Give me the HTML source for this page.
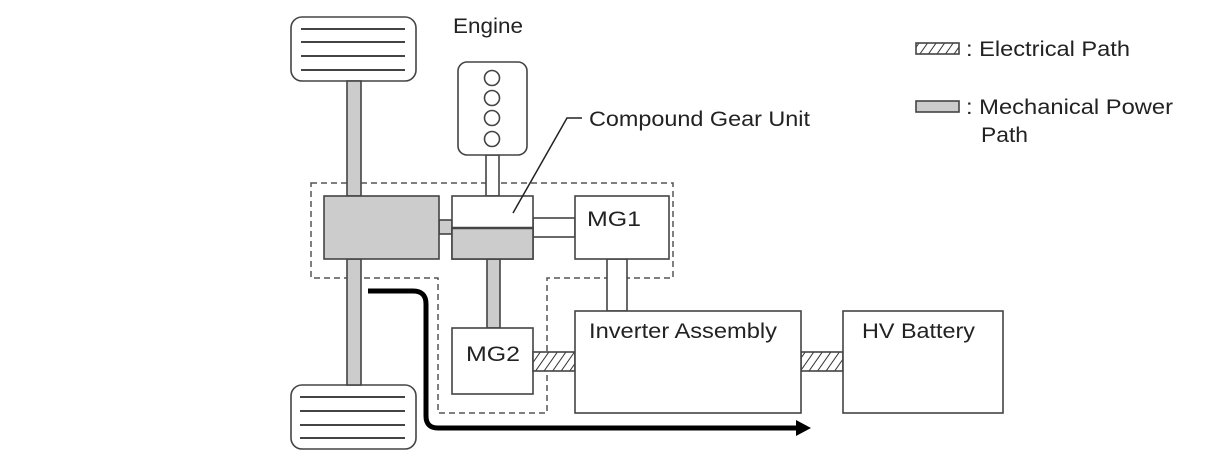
<!DOCTYPE html>
<html><head><meta charset="utf-8"><style>
html,body{margin:0;padding:0;background:#fff;}
svg{display:block;}
text{font-family:"Liberation Sans",sans-serif;font-size:21px;fill:#222;}
</style></head><body>
<svg width="1210" height="474" viewBox="0 0 1210 474" xmlns="http://www.w3.org/2000/svg">
<defs>
<pattern id="h" width="7" height="7" patternUnits="userSpaceOnUse" patternTransform="rotate(35)">
<rect width="7" height="7" fill="#fff"/><line x1="0" y1="0" x2="0" y2="7" stroke="#333" stroke-width="2"/>
</pattern>
</defs>
<g stroke="#444" stroke-width="1.6">
<polygon points="311,183 673,183 673,278 547,278 547,413 438,413 438,278 311,278" fill="none" stroke="#555" stroke-width="1.5" stroke-dasharray="6,4"/>
<rect x="291" y="17" width="125" height="64" rx="11" fill="#fff"/>
<g stroke-width="2"><line x1="301" y1="29" x2="405" y2="29"/><line x1="301" y1="42" x2="405" y2="42"/><line x1="301" y1="56" x2="405" y2="56"/><line x1="301" y1="70" x2="405" y2="70"/></g>
<rect x="291" y="385" width="125" height="64" rx="11" fill="#fff"/>
<g stroke-width="2"><line x1="300" y1="397" x2="405" y2="397"/><line x1="300" y1="411" x2="405" y2="411"/><line x1="300" y1="425" x2="405" y2="425"/><line x1="300" y1="438" x2="405" y2="438"/></g>
<rect x="347" y="81" width="14" height="115" fill="#ccc"/>
<rect x="347" y="259" width="14" height="126" fill="#ccc"/>
<rect x="439" y="220" width="13" height="14" fill="#ccc"/>
<rect x="486" y="155" width="13" height="41" fill="#fff"/>
<rect x="533" y="218" width="42" height="19" fill="#fff"/>
<rect x="487" y="259" width="13" height="69" fill="#ccc"/>
<rect x="607" y="259" width="20" height="52" fill="#fff"/>
<rect x="324" y="196" width="115" height="63" fill="#ccc"/>
<rect x="452" y="196" width="81" height="63" fill="#fff"/>
<rect x="452" y="228" width="81" height="31" fill="#ccc"/>
<line x1="452" y1="228" x2="533" y2="228" stroke-width="2.5"/>
<rect x="458" y="62" width="69" height="93" rx="9" fill="#fff"/>
<circle cx="492" cy="78" r="7.5" fill="#fff"/><circle cx="492" cy="98" r="7.5" fill="#fff"/><circle cx="492" cy="118" r="7.5" fill="#fff"/><circle cx="492" cy="139" r="7.5" fill="#fff"/>
<rect x="575" y="196" width="94" height="63" fill="#fff"/>
<rect x="452" y="328" width="81" height="66" fill="#fff"/>
<rect x="533" y="352" width="42" height="19" fill="url(#h)"/>
<rect x="801" y="352" width="42" height="19" fill="url(#h)"/>
<rect x="575" y="311" width="226" height="102" fill="#fff"/>
<rect x="843" y="311" width="160" height="102" fill="#fff"/>
<polyline points="513,213 567,118 582,118" fill="none" stroke="#222" stroke-width="1.5"/>
<rect x="916" y="43" width="43" height="11" fill="url(#h)"/>
<rect x="916" y="101" width="43" height="11" fill="#ccc"/>
</g>
<path d="M368,291 H413 Q426,291 426,304 V416 Q426,428 438,428 H798" fill="none" stroke="#000" stroke-width="5"/>
<polygon points="796,420 811,428 796,436" fill="#000"/>
<g>
<text x="453" y="33" textLength="70" lengthAdjust="spacingAndGlyphs">Engine</text>
<text x="589" y="126" textLength="221" lengthAdjust="spacingAndGlyphs">Compound Gear Unit</text>
<text x="587" y="226" textLength="54" lengthAdjust="spacingAndGlyphs">MG1</text>
<text x="466" y="361" textLength="54" lengthAdjust="spacingAndGlyphs">MG2</text>
<text x="589" y="338" textLength="188" lengthAdjust="spacingAndGlyphs">Inverter Assembly</text>
<text x="862" y="338" textLength="113" lengthAdjust="spacingAndGlyphs">HV Battery</text>
<text x="966" y="56" textLength="164" lengthAdjust="spacingAndGlyphs">: Electrical Path</text>
<text x="966" y="114" textLength="207" lengthAdjust="spacingAndGlyphs">: Mechanical Power</text>
<text x="981" y="142" textLength="47" lengthAdjust="spacingAndGlyphs">Path</text>
</g>
</svg>
</body></html>
